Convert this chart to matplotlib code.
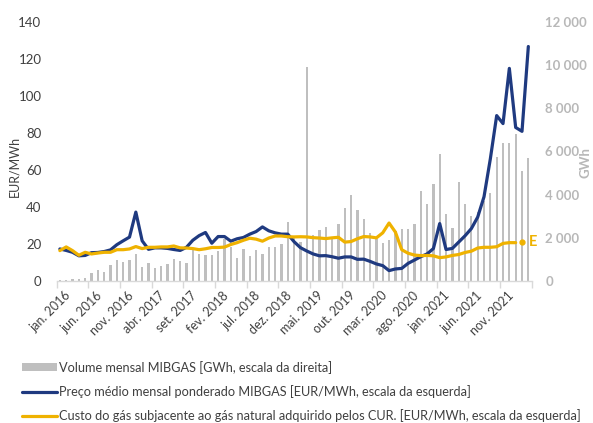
import numpy as np
import matplotlib
matplotlib.use("Agg")
import matplotlib.pyplot as plt
from matplotlib.ticker import FuncFormatter
import matplotlib.transforms as mtransforms

plt.rcParams['font.family'] = ['Lato', 'DejaVu Sans']

# ---------------- data (monthly, jan. 2016 .. mar. 2022) ----------------
volume_gwh = [50, 60, 80, 90, 155, 385, 495, 430, 740, 970, 880, 970,
              1250, 665, 835, 600, 695, 800, 1020, 910, 835, 1435, 1250, 1200,
              1190, 1390, 1930, 1585, 1050, 1470, 1170, 1420, 1250, 1590, 1580, 1710,
              2740, 2000, 1800, 9920, 2150, 2350, 2500, 2000, 2650, 3360, 4000, 3275,
              2890, 2200, 1950, 1770, 1910, 2300, 2420, 2420, 2630, 4150, 3580, 4500,
              5890, 3120, 2460, 4580, 3580, 3010, 3200, 3700, 4090, 5740, 6400, 6380,
              6820, 5075, 5690]

price_mibgas = [17.3, 16.5, 15.5, 13.6, 13.8, 15.3, 15.4, 15.9, 16.8, 19.6, 21.7, 23.7,
                37.2, 21.7, 17.1, 17.9, 17.9, 17.6, 17.0, 16.5, 18.2, 22.0, 24.5, 26.2,
                20.4, 24.0, 24.0, 21.5, 22.8, 23.5, 25.3, 26.7, 29.2, 27.1, 26.0, 25.3,
                25.3, 21.2, 18.0, 16.2, 14.6, 13.6, 13.7, 13.1, 12.3, 13.0, 13.0, 11.7,
                11.8, 10.6, 9.2, 8.3, 5.6, 6.5, 6.8, 9.5, 11.3, 13.1, 14.6, 17.5,
                31.0, 17.0, 17.6, 21.0, 24.4, 28.3, 34.5, 45.5, 66.0, 89.3, 85.0, 114.8,
                82.9, 80.8, 126.6]

cur_cost = [16.4, 18.4, 16.4, 13.9, 15.5, 14.6, 15.1, 15.5, 15.5, 16.9, 16.9, 17.3,
            18.6, 17.5, 18.2, 18.2, 18.4, 18.4, 18.9, 17.9, 17.8, 17.5, 16.9, 17.4,
            18.1, 18.1, 18.3, 19.7, 20.7, 22.0, 23.1, 22.6, 21.5, 23.2, 24.3, 24.3,
            23.9, 23.8, 23.9, 23.8, 23.4, 23.2, 22.9, 23.3, 23.6, 21.0, 21.3, 22.8,
            24.0, 23.8, 23.3, 26.0, 31.3, 26.4, 16.9, 15.0, 14.0, 13.7, 13.8, 13.6,
            12.6, 13.0, 13.8, 14.3, 15.4, 16.1, 17.8, 18.2, 18.2, 18.5, 20.3, 20.7,
            20.7]
cur_cost_estimate_month = 73
cur_cost_estimate = 21.0
estimate_mark = "E"

tick_labels = ['jan. 2016', 'jun. 2016', 'nov. 2016', 'abr. 2017', 'set. 2017',
               'fev. 2018', 'jul. 2018', 'dez. 2018', 'mai. 2019', 'out. 2019',
               'mar. 2020', 'ago. 2020', 'jan. 2021', 'jun. 2021', 'nov. 2021']

legend_labels = ['Volume mensal MIBGAS [GWh, escala da direita]',
                 'Preço médio mensal ponderado MIBGAS [EUR/MWh, escala da esquerda]',
                 'Custo do gás subjacente ao gás natural adquirido pelos CUR. [EUR/MWh, escala da esquerda]']

left_label = 'EUR/MWh'
right_label = 'GWh'

# ---------------- styles ----------------
C_BAR = '#bfbfbf'
C_BLUE = '#1f3a80'
C_GOLD = '#efb200'
C_TXT = '#404040'
C_AXIS = '#d9d9d9'
FS = 9

W, H = 593, 423
fig = plt.figure(figsize=(W / 100, H / 100), dpi=100)
ax = fig.add_axes([56.7 / W, 1 - 281 / H, (531.5 - 56.7) / W, (281 - 21.7) / H])
ax2 = ax.twinx()

n = len(volume_gwh)
x = np.arange(n)
bars = ax2.bar(x, volume_gwh, width=0.36, color=C_BAR, zorder=1, label=legend_labels[0])

ax.set_zorder(ax2.get_zorder() + 1)
ax.patch.set_visible(False)

l1, = ax.plot(x, price_mibgas, color=C_BLUE, lw=2.3, solid_joinstyle='round',
              solid_capstyle='round', label=legend_labels[1])
l2, = ax.plot(np.arange(len(cur_cost)), cur_cost, color=C_GOLD, lw=2.3,
              solid_joinstyle='round', solid_capstyle='round', label=legend_labels[2])
ax.plot([cur_cost_estimate_month], [cur_cost_estimate], 'o', color=C_GOLD, ms=3.5)
ax.text(cur_cost_estimate_month + 1.15, cur_cost_estimate, estimate_mark, color=C_GOLD,
        fontsize=10.5, fontweight='bold', ha='left', va='center', clip_on=False)

ax.set_xlim(-0.5, n - 0.5)
ax.set_ylim(0, 140)
ax2.set_ylim(0, 12000)

for s in ['top', 'left', 'right']:
    ax.spines[s].set_visible(False)
    ax2.spines[s].set_visible(False)
ax2.spines['bottom'].set_visible(False)
ax.spines['bottom'].set_color(C_AXIS)
ax.spines['bottom'].set_linewidth(1.0)

ax.set_yticks(np.arange(0, 141, 20))
ax.tick_params(axis='y', length=0, pad=11, labelsize=FS + 0.5, labelcolor=C_TXT)
ax2.set_yticks(np.arange(0, 12001, 2000))
ax2.yaxis.set_major_formatter(FuncFormatter(lambda v, p: f"{int(v):,}".replace(',', ' ')))
ax2.tick_params(axis='y', length=0, pad=10, labelsize=FS + 0.5, labelcolor='#b8b8b8')
for t in ax2.get_yticklabels():
    t.set_fontweight('bold')

# x ticks: marks at 5-month boundaries, labels at month centres
ax.set_xticks(np.arange(-0.5, n, 5))
ax.set_xticklabels([])
ax.tick_params(axis='x', which='major', length=5, width=1, color=C_AXIS)
ax.set_xticks(np.arange(0, len(tick_labels) * 5, 5), minor=True)
ax.set_xticklabels(tick_labels, minor=True, rotation=45, ha='right', va='top',
                   rotation_mode='anchor', fontsize=FS, color=C_TXT)
ax.tick_params(axis='x', which='minor', length=0, pad=6)
off = mtransforms.ScaledTranslation(3 / 72, 0, fig.dpi_scale_trans)
for lab in ax.get_xticklabels(minor=True):
    lab.set_transform(lab.get_transform() + off)

fig.text(14 / W, 1 - 166 / H, left_label, rotation=90, ha='center', va='center',
         fontsize=FS, color=C_TXT)
fig.text(586 / W, 1 - 163 / H, right_label, rotation=90, ha='center', va='center',
         fontsize=FS + 0.5, color='#b8b8b8', fontweight='bold')

fig.legend(handles=[bars, l1, l2], labels=legend_labels, loc='upper left',
           bbox_to_anchor=(22 / W, 1 - 361 / H), frameon=False, fontsize=FS + 0.2,
           borderpad=0, borderaxespad=0, handlelength=2.7, handleheight=0.6,
           handletextpad=0.2, labelspacing=0.88, labelcolor=C_TXT)

fig.savefig('out.png', dpi=100, facecolor='white')
